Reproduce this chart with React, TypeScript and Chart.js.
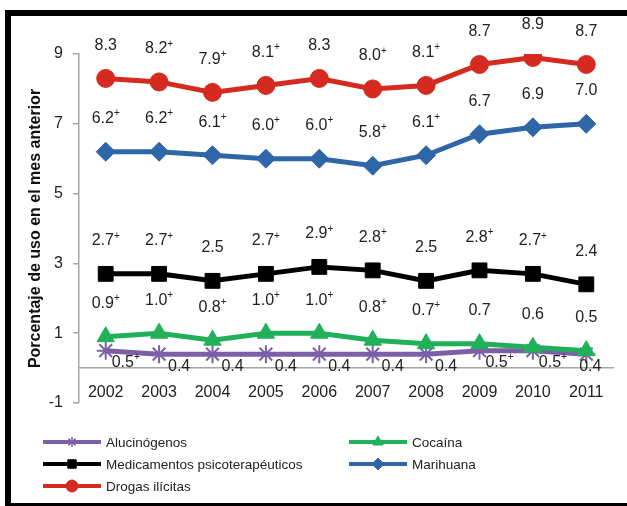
import React, { useEffect, useRef } from 'react';
import { Chart, registerables } from 'chart.js';
import { drawPoint } from 'chart.js/helpers';

Chart.register(...registerables);

const years = ['2002', '2003', '2004', '2005', '2006', '2007', '2008', '2009', '2010', '2011'];

const alucinogenos = [0.5, 0.4, 0.4, 0.4, 0.4, 0.4, 0.4, 0.5, 0.5, 0.4];
const alucinogenosSig = [true, false, false, false, false, false, false, true, true, false];

const cocaina = [0.9, 1.0, 0.8, 1.0, 1.0, 0.8, 0.7, 0.7, 0.6, 0.5];
const cocainaSig = [true, true, true, true, true, true, true, false, false, false];

const medicamentos = [2.7, 2.7, 2.5, 2.7, 2.9, 2.8, 2.5, 2.8, 2.7, 2.4];
const medicamentosSig = [true, true, false, true, true, true, false, true, true, false];

const marihuana = [6.2, 6.2, 6.1, 6.0, 6.0, 5.8, 6.1, 6.7, 6.9, 7.0];
const marihuanaSig = [true, true, true, true, true, true, true, false, false, false];

const drogas = [8.3, 8.2, 7.9, 8.1, 8.3, 8.0, 8.1, 8.7, 8.9, 8.7];
const drogasSig = [false, true, true, true, false, true, true, false, false, false];

const FONT = '"Liberation Sans", Arial, Helvetica, sans-serif';
const TEXT = '#222222';
const AXIS = '#a6a6a6';

const labelPlugin = {
  id: 'valueLabels',
  afterDatasetsDraw(chart: any) {
    const ctx: CanvasRenderingContext2D = chart.ctx;
    chart.data.datasets.forEach((ds: any, di: number) => {
      const meta = chart.getDatasetMeta(di);
      meta.data.forEach((pt: any, i: number) => {
        const v = ds.data[i] as number;
        const txt = v.toFixed(1);
        const plus = ds.sig[i];
        ctx.save();
        ctx.font = `16px ${FONT}`;
        const w1 = ctx.measureText(txt).width;
        ctx.font = `10px ${FONT}`;
        const w2 = plus ? ctx.measureText('+').width : 0;
        const w = w1 + w2;
        let cx: number, cy: number;
        if (ds.labelBelow) {
          const last = i === ds.data.length - 1;
          cx = pt.x + (last ? 4 : 20);
          cy = pt.y + 12;
        } else {
          cx = pt.x;
          cy = pt.y - 33;
        }
        const x0 = cx - w / 2;
        ctx.fillStyle = TEXT;
        ctx.textAlign = 'left';
        ctx.textBaseline = 'middle';
        ctx.font = `16px ${FONT}`;
        ctx.fillText(txt, x0, cy);
        if (plus) {
          ctx.font = `10px ${FONT}`;
          ctx.fillText('+', x0 + w1, cy - 5);
        }
        ctx.restore();
      });
    });
  },
};

const LEGEND_COL_X = [43, 349];
const LEGEND_ROW_Y0 = 442;
const LEGEND_ROW_H = 22;

const legendPlugin = {
  id: 'customLegend',
  afterDraw(chart: any) {
    const ctx: CanvasRenderingContext2D = chart.ctx;
    chart.data.datasets.forEach((ds: any, i: number) => {
      const col = i % 2;
      const row = Math.floor(i / 2);
      const x0 = LEGEND_COL_X[col];
      const y = LEGEND_ROW_Y0 + row * LEGEND_ROW_H;
      ctx.save();
      ctx.strokeStyle = ds.borderColor;
      ctx.lineWidth = 4;
      ctx.lineCap = 'butt';
      ctx.beginPath();
      ctx.moveTo(x0, y);
      ctx.lineTo(x0 + 58, y);
      ctx.stroke();
      ctx.fillStyle = ds.borderColor;
      const isStar = ds.pointStyle === 'star';
      ctx.lineWidth = isStar ? 1.5 : 1;
      drawPoint(ctx, { pointStyle: ds.pointStyle, radius: isStar ? 5 : 6, rotation: 0, borderWidth: ctx.lineWidth } as any, x0 + 29, y);
      ctx.fillStyle = TEXT;
      ctx.font = `13.5px ${FONT}`;
      ctx.textAlign = 'left';
      ctx.textBaseline = 'middle';
      ctx.fillText(ds.label, x0 + 63, y + 1);
      ctx.restore();
    });
  },
};

export default function App() {
  const ref = useRef<HTMLCanvasElement>(null);
  useEffect(() => {
    document.body.style.margin = '0';
    const mk = (label: string, data: number[], sig: boolean[], color: string, pointStyle: string, radius: number, order: number, extra: any = {}) => ({
      label,
      data,
      sig,
      borderColor: color,
      backgroundColor: color,
      pointBackgroundColor: color,
      pointBorderColor: color,
      pointStyle,
      pointRadius: radius,
      pointBorderWidth: 1,
      borderWidth: 5,
      tension: 0,
      order,
      ...extra,
    });
    const chart = new Chart(ref.current as HTMLCanvasElement, {
      type: 'line',
      data: {
        labels: years,
        datasets: [
          mk('Alucinógenos', alucinogenos, alucinogenosSig, '#7c5fa6', 'star', 9, 1, { labelBelow: true, pointBorderWidth: 2 }),
          mk('Cocaína', cocaina, cocainaSig, '#20b05a', 'triangle', 10, 0),
          mk('Medicamentos psicoterapéuticos', medicamentos, medicamentosSig, '#000000', 'rect', 10.5, 2),
          mk('Marihuana', marihuana, marihuanaSig, '#2f66a8', 'rectRot', 9.5, 3),
          mk('Drogas ilícitas', drogas, drogasSig, '#d52a1f', 'circle', 9, 4),
        ] as any,
      },
      options: {
        responsive: false,
        animation: false,
        devicePixelRatio: 1,
        layout: { padding: { left: 0, right: 14, top: 54, bottom: 103 } },
        plugins: { legend: { display: false }, tooltip: { enabled: false } },
        scales: {
          x: {
            type: 'category',
            offset: true,
            position: { y: 0 } as any,
            grid: { display: false },
            border: { display: true, color: AXIS, width: 1.5 },
            ticks: { color: TEXT, font: { family: FONT, size: 16 }, padding: 7, maxRotation: 0, autoSkip: false },
          },
          y: {
            min: -1,
            max: 9,
            ticks: { stepSize: 2, color: TEXT, font: { family: FONT, size: 16 }, padding: 10 },
            grid: { display: true, drawOnChartArea: false, drawTicks: true, tickLength: 6, color: AXIS, lineWidth: 1.5 },
            border: { display: true, color: AXIS, width: 1.5 },
            title: {
              display: true,
              text: 'Porcentaje de uso en el mes anterior',
              font: { family: FONT, size: 16, weight: 'bold' },
              color: '#111111',
              padding: { top: 26, bottom: 0 },
            },
            afterFit: (s: any) => {
              s.width = 79;
            },
          },
        },
      } as any,
      plugins: [labelPlugin, legendPlugin],
    });
    return () => chart.destroy();
  }, []);

  return (
    <div style={{ position: 'fixed', left: 0, top: 0, width: 627, height: 506, overflow: 'hidden', background: '#ffffff' }}>
      <div
        style={{
          position: 'absolute',
          left: 5,
          top: 10,
          width: 640,
          height: 499,
          border: '6px solid #000',
          boxSizing: 'border-box',
        }}
      />
      <canvas ref={ref} width={627} height={506} style={{ position: 'absolute', left: 0, top: 0 }} />
    </div>
  );
}
